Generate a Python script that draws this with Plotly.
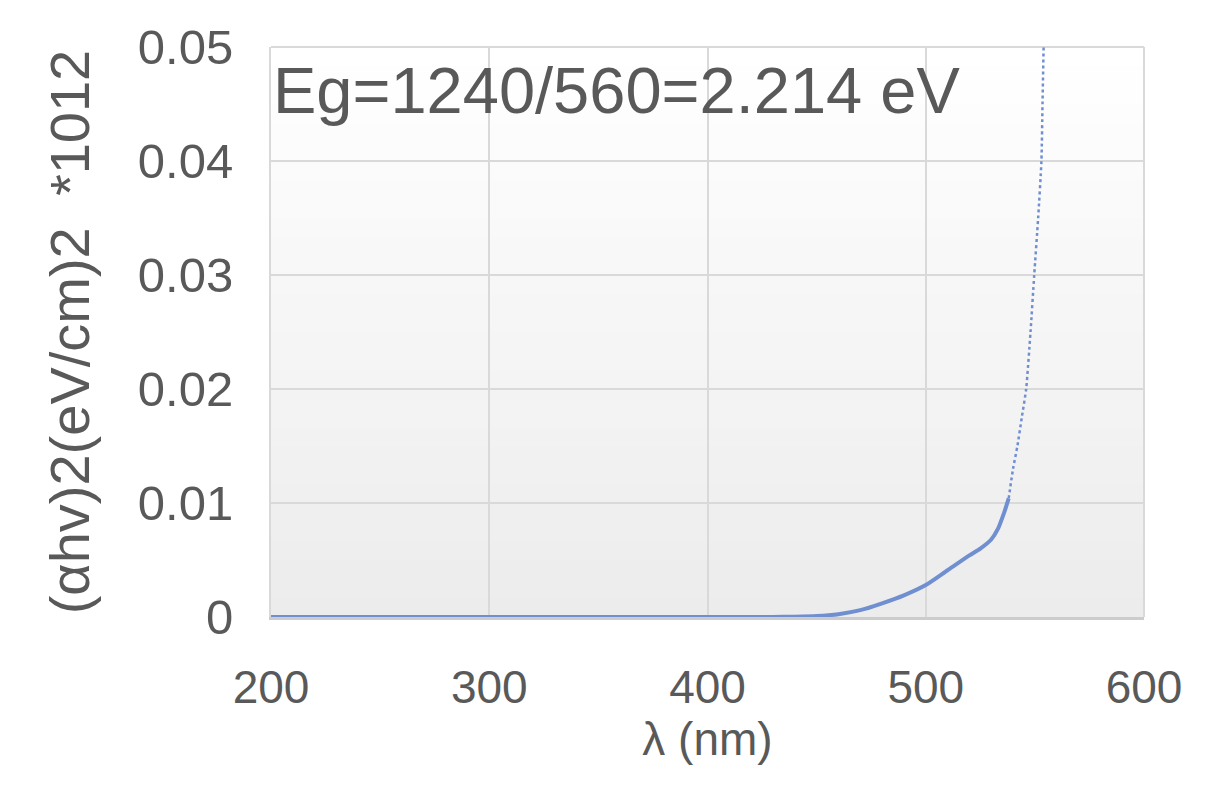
import plotly.graph_objects as go

# Solid measured part of the curve
wl_solid = [200, 300, 400, 430, 440, 450, 460, 470, 480, 490, 500, 510, 520, 525, 530, 533, 536, 538]
val_solid = [0, 0, 0, 0.00001, 0.00003, 0.00008, 0.00025, 0.0006, 0.0012, 0.0019, 0.0028, 0.0041, 0.0054, 0.006, 0.0068, 0.0077, 0.0092, 0.0104]

# Dotted (steep) part of the curve
wl_dot = [538, 540, 542, 544, 546, 548, 549.7, 551.5, 553, 553.5, 554]
val_dot = [0.0104, 0.013, 0.015, 0.0175, 0.020, 0.025, 0.030, 0.035, 0.040, 0.045, 0.05]

x_ticks = [200, 300, 400, 500, 600]
y_ticks = [0, 0.01, 0.02, 0.03, 0.04, 0.05]
y_ticktext = ["0", "0.01", "0.02", "0.03", "0.04", "0.05"]

annotation_text = "Eg=1240/560=2.214 eV"
x_title = "λ (nm)"
y_title = "(αhv)2(eV/cm)2  *1012"

LINE = "#6f8fd0"
TXT = "#595959"
GRID = "#d9d9d9"
FONT = "Liberation Sans, Arial, sans-serif"

fig = go.Figure()
fig.add_trace(go.Scatter(x=wl_solid, y=val_solid, mode="lines",
                         line=dict(color=LINE, width=4, shape="spline", smoothing=0.6),
                         showlegend=False, hoverinfo="skip"))
fig.add_trace(go.Scatter(x=wl_dot, y=val_dot, mode="lines",
                         line=dict(color=LINE, width=2.5, dash="dot", shape="spline", smoothing=0.6),
                         showlegend=False, hoverinfo="skip"))

# Subtle vertical gradient background (white at top to light gray at bottom)
n = 30
shapes = []
for i in range(n):
    t = i / (n - 1)
    c = int(round(255 - (255 - 236) * (1 - t)))
    shapes.append(dict(type="rect", xref="x domain", yref="y domain",
                       x0=0, x1=1, y0=i / n, y1=(i + 1) / n,
                       fillcolor=f"rgb({c},{c},{c})", line=dict(width=0), layer="below"))
# frame on top/right
shapes.append(dict(type="line", xref="x domain", yref="y domain", x0=0, x1=1, y0=1, y1=1,
                   line=dict(color=GRID, width=2), layer="below"))
shapes.append(dict(type="line", xref="x domain", yref="y domain", x0=1, x1=1, y0=0, y1=1,
                   line=dict(color=GRID, width=2), layer="below"))

fig.update_layout(
    width=1215, height=788,
    margin=dict(l=263, r=79, t=30, b=179),
    paper_bgcolor="white", plot_bgcolor="white",
    shapes=shapes,
    font=dict(family=FONT, color=TXT),
    annotations=[
        dict(text=annotation_text, xref="x domain", yref="y domain",
             x=0.0, y=0.923, xanchor="left", yanchor="middle", showarrow=False,
             font=dict(family=FONT, size=65, color=TXT)),
        dict(text=y_title, xref="paper", yref="paper", x=-0.231, y=0.5,
             xanchor="center", yanchor="middle", textangle=-90, showarrow=False,
             font=dict(family=FONT, size=56, color=TXT)),
    ],
)
fig.update_xaxes(range=[200, 600], tickvals=x_ticks, ticks="",
                 showgrid=True, gridcolor=GRID, gridwidth=2,
                 showline=True, linecolor="#cccccc", linewidth=3, mirror=False,
                 zeroline=False, ticklabelstandoff=28,
                 tickfont=dict(family=FONT, size=46, color=TXT),
                 title=dict(text=x_title, standoff=4, font=dict(family=FONT, size=46, color=TXT)))
fig.update_yaxes(range=[0, 0.05], tickvals=y_ticks, ticktext=y_ticktext, ticks="",
                 showgrid=True, gridcolor=GRID, gridwidth=2,
                 showline=True, linecolor=GRID, linewidth=2, mirror=False,
                 zeroline=False, ticklabelstandoff=26,
                 tickfont=dict(family=FONT, size=49, color=TXT))

fig.write_html("out.html")
